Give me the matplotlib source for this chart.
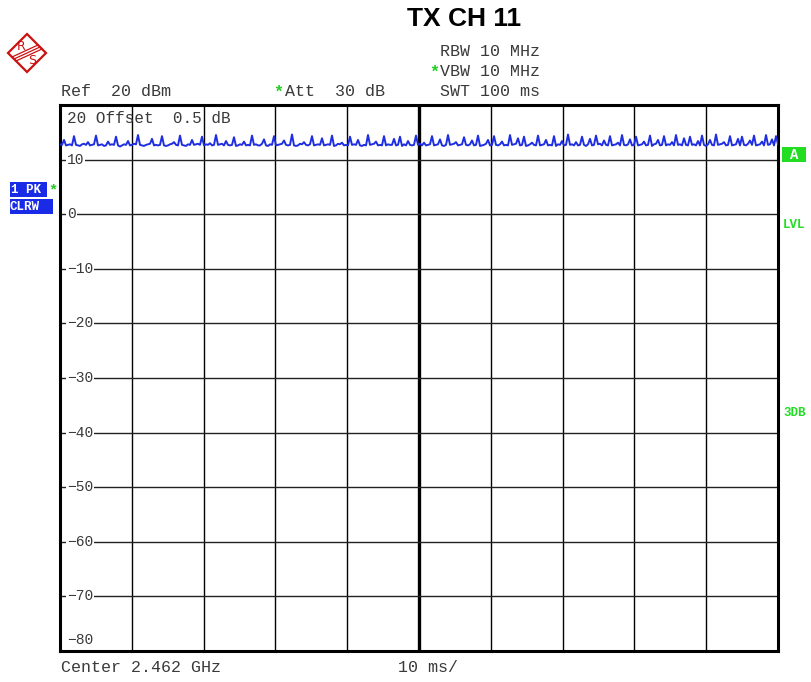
import matplotlib.pyplot as plt
from matplotlib.patches import Rectangle, Polygon
import numpy as np

# data (zero span, 100 ms sweep)
title = "TX CH 11"
y_levels = [20, 10, 0, -10, -20, -30, -40, -50, -60, -70, -80]
sweep_ms = 100
trace_dbm = [
    12.8, 12.7, 13.6, 12.6, 12.7, 12.8, 12.6, 14.3, 12.7, 12.6,
    12.5, 12.8, 12.9, 12.7, 13.2, 12.6, 12.7, 12.8, 14.4, 12.6,
    12.7, 12.8, 12.5, 12.6, 13.3, 12.7, 12.8, 12.7, 14.2, 12.6,
    12.4, 12.6, 12.8, 12.7, 13.4, 12.6, 12.7, 12.9, 12.8, 14.5,
    12.7, 12.6, 12.5, 12.7, 12.8, 12.9, 13.8, 12.6, 12.7, 12.6,
    12.7, 14.3, 12.6, 12.5, 12.6, 12.8, 12.9, 13.2, 12.7, 12.6,
    14.4, 12.7, 12.6, 12.5, 12.8, 12.7, 13.6, 12.7, 12.8, 12.9,
    12.7, 14.2, 12.6, 12.8, 12.7, 13.0, 12.6, 12.7, 14.5, 12.7,
    12.8, 12.9, 12.6, 13.4, 12.7, 12.6, 12.7, 14.1, 12.5, 12.6,
    12.8, 12.7, 13.3, 12.6, 12.7, 12.6, 14.4, 12.7, 12.8, 12.6,
    12.6, 12.9, 13.7, 12.6, 12.5, 12.8, 12.7, 14.3, 12.6, 12.7,
    12.8, 12.9, 13.5, 12.7, 12.6, 12.7, 14.6, 12.6, 12.5, 12.6,
    12.9, 12.8, 13.2, 12.7, 12.6, 12.8, 14.3, 12.6, 12.7, 12.8,
    12.7, 13.9, 12.6, 12.7, 12.8, 12.7, 14.4, 12.5, 12.6, 12.9,
    12.8, 13.1, 12.6, 12.7, 12.6, 14.2, 12.7, 12.8, 12.7, 13.6,
    12.6, 12.5, 12.7, 12.6, 14.5, 12.7, 12.8, 12.9, 13.3, 12.6,
    12.7, 12.6, 14.3, 12.6, 12.8, 12.7, 12.7, 13.8, 12.6, 12.7,
    14.2, 12.5, 12.8, 12.6, 13.4, 12.7, 12.6, 12.7, 14.4, 12.7,
    12.9, 12.6, 13.1, 12.6, 12.7, 12.8, 14.3, 12.6, 12.7, 12.8,
    13.7, 12.6, 12.5, 12.7, 14.5, 12.7, 12.8, 12.9, 13.2, 12.6,
    12.7, 12.8, 14.1, 12.7, 12.6, 12.8, 13.5, 12.6, 12.7, 14.4,
    12.5, 12.6, 12.7, 12.9, 13.6, 12.6, 12.7, 14.3, 12.7, 12.6,
    12.8, 13.3, 12.6, 12.7, 12.6, 14.5, 12.7, 12.8, 12.9, 13.9,
    12.6, 12.7, 14.2, 12.5, 12.6, 12.8, 13.1, 12.7, 12.6, 14.4,
    12.6, 12.7, 12.8, 13.6, 12.6, 12.7, 12.6, 14.3, 12.5, 12.8,
    12.7, 13.4, 12.6, 12.7, 14.6, 12.7, 12.8, 12.6, 13.2, 12.6,
    12.7, 14.2, 12.7, 12.5, 12.8, 13.8, 12.6, 12.7, 14.4, 12.8,
    12.9, 12.6, 13.5, 12.7, 12.6, 14.3, 12.6, 12.7, 12.8, 13.1,
    12.6, 14.5, 12.7, 12.6, 12.8, 13.7, 12.6, 12.7, 14.2, 12.6,
    12.7, 12.8, 13.3, 12.6, 12.7, 14.4, 12.5, 12.8, 12.9, 13.6,
    12.6, 12.7, 14.3, 12.6, 12.8, 12.7, 13.2, 12.6, 14.5, 12.7,
    12.8, 12.6, 13.9, 12.7, 12.6, 14.2, 12.7, 12.8, 12.6, 13.4,
    12.6, 14.4, 12.7, 12.5, 12.8, 13.6, 12.7, 12.6, 14.6, 12.7,
    12.8, 12.9, 13.2, 12.6, 12.7, 14.3, 12.6, 12.7, 12.8, 13.8,
    12.6, 14.2, 12.7, 12.6, 12.9, 13.5, 12.7, 14.4, 12.6, 12.7,
    12.8, 13.3, 12.6, 14.5, 12.7, 12.8, 13.7, 12.6, 14.3, 12.8,
]

W, H = 811, 682
fig = plt.figure(figsize=(W / 100, H / 100), dpi=100)
fig.patch.set_facecolor("white")


def px(x, y):
    return x / W, 1 - y / H


ax = fig.add_axes([60 / W, 1 - 651 / H, 718 / W, 546 / H])
t = np.linspace(0, sweep_ms, len(trace_dbm))
ax.plot(t, trace_dbm, color="#1f2ee0", lw=1.4, zorder=4)
ax.set_xlim(0, sweep_ms)
ax.set_ylim(-80, 20)
ax.set_xticks([])
ax.set_yticks([])
for s in ax.spines.values():
    s.set_linewidth(2.2)
    s.set_color("black")

for k in range(1, 10):
    ax.axvline(k * sweep_ms / 10, color="black", lw=2.4 if k == 5 else 1.0, zorder=2)
for lev in y_levels[1:-1]:
    ax.axhline(lev, color="#222222", lw=1.0, zorder=2)

mono = "Liberation Mono"
txt = "#3a3a3a"
for lev in y_levels:
    yy = lev
    if lev == 20:
        continue
    if lev == -80:
        yy = -78
    ax.text(1.0, yy, "\u2212" + str(-lev) if lev < 0 else str(lev), family=mono,
            fontsize=10.5, color=txt, ha="left", va="center", zorder=5,
            bbox=dict(facecolor="white", edgecolor="none", pad=0.5))
ax.text(1.0, 17.5, "20 Offset  0.5 dB", family=mono, fontsize=11.5, color=txt,
        ha="left", va="center", zorder=5)

# header
fig.text(*px(464, 19), title, fontsize=19, fontweight="bold", family="Liberation Sans",
         ha="center", va="center", color="black")
fig.text(*px(440, 52), "RBW 10 MHz", family=mono, fontsize=12, color=txt, va="center")
fig.text(*px(440, 72), "VBW 10 MHz", family=mono, fontsize=12, color=txt, va="center")
fig.text(*px(440, 92), "SWT 100 ms", family=mono, fontsize=12, color=txt, va="center")
fig.text(*px(61, 92), "Ref  20 dBm", family=mono, fontsize=12, color=txt, va="center")
fig.text(*px(285, 92), "Att  30 dB", family=mono, fontsize=12, color=txt, va="center")
fig.text(*px(434, 72), "*", family=mono, fontsize=12, color="#22cc22", ha="center", va="center", fontweight="bold")
fig.text(*px(278, 92), "*", family=mono, fontsize=12, color="#22cc22", ha="center", va="center", fontweight="bold")

# footer
fig.text(*px(61, 667), "Center 2.462 GHz", family=mono, fontsize=12, color=txt, va="center")
fig.text(*px(398, 667), "10 ms/", family=mono, fontsize=12, color=txt, va="center")

# left trace labels
blue = "#1a2be8"
fig.patches.append(Rectangle(px(10, 197), 37 / W, 15 / H, transform=fig.transFigure,
                             facecolor=blue, edgecolor="none"))
fig.patches.append(Rectangle(px(10, 214), 43 / W, 15 / H, transform=fig.transFigure,
                             facecolor=blue, edgecolor="none"))
fig.text(*px(11, 190), "1 PK", family=mono, fontsize=9, color="white", va="center", fontweight="bold")
fig.text(*px(10, 207), "CLRW", family=mono, fontsize=9, color="white", va="center", fontweight="bold")
fig.text(*px(53, 190), "*", family=mono, fontsize=11, color="#22cc22", ha="center", va="center", fontweight="bold")

# right side markers
green = "#22dd22"
fig.patches.append(Rectangle(px(782, 162), 24 / W, 15 / H, transform=fig.transFigure,
                             facecolor=green, edgecolor="none"))
fig.text(*px(794, 155), "A", family=mono, fontsize=10, color="white", ha="center", va="center", fontweight="bold")
fig.text(*px(783, 225), "LVL", family=mono, fontsize=9, color=green, va="center", fontweight="bold")
fig.text(*px(783, 413), "3DB", family=mono, fontsize=9, color=green, va="center", fontweight="bold")

# R&S logo
red = "#cc1111"
cx, cy, r = 27, 53, 19
fig.patches.append(Polygon([px(cx, cy - r), px(cx + r, cy), px(cx, cy + r), px(cx - r, cy)],
                           closed=True, transform=fig.transFigure, fill=False,
                           edgecolor=red, lw=1.6))
for d in (-2, 0, 2):
    fig.lines.append(plt.Line2D([(cx - 13 + d) / W, (cx + 13 + d) / W],
                                [1 - (cy + 6 + d) / H, 1 - (cy - 6 + d) / H],
                                transform=fig.transFigure, color=red, lw=0.9))
fig.text(*px(21, 46), "R", fontsize=9, color=red, ha="center", va="center", family="DejaVu Sans")
fig.text(*px(32, 60), "S", fontsize=9, color=red, ha="center", va="center", family="DejaVu Sans")

fig.savefig("out.png", dpi=100)
